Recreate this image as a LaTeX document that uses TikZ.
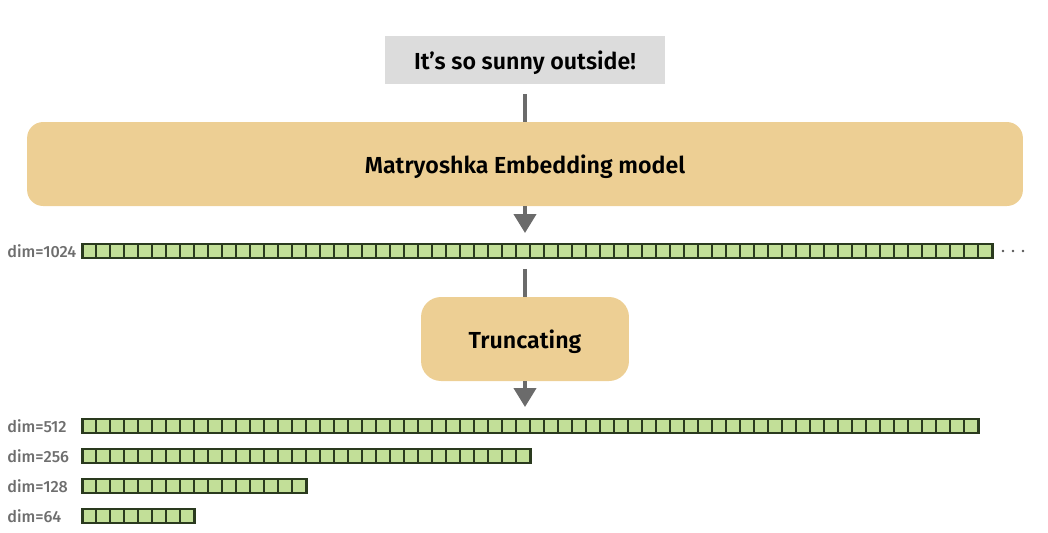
\documentclass[tikz,border=0pt]{standalone}
\usepackage{fontspec}
\setmainfont{Fira Sans}[BoldFont={Fira Sans SemiBold}]
\newfontfamily\medfont{Fira Sans Medium}
\usetikzlibrary{arrows.meta,positioning}
\definecolor{boxgray}{HTML}{DCDCDC}
\definecolor{sand}{HTML}{EDCF94}
\definecolor{arrowgray}{HTML}{6B6B6B}
\definecolor{cellfill}{HTML}{C2DF98}
\definecolor{celledge}{HTML}{2A3A1E}
\definecolor{labelgray}{HTML}{6E6E6E}
\tikzset{
  inputnode/.style={
    rectangle, fill=boxgray, minimum width=5.6cm, minimum height=0.96cm,
    text depth=0pt, font=\fontsize{13.2}{15}\selectfont\bfseries
  },
  modelnode/.style={
    rectangle, rounded corners=0.32cm, fill=sand, minimum height=1.68cm,
    text depth=0pt, font=\fontsize{13.2}{15}\selectfont\bfseries
  },
  flowline/.style={line width=2.3pt, color=arrowgray},
  flowarrow/.style={flowline, -{Triangle[width=0.44cm,length=0.38cm]}},
  vecrow/.style={
    rectangle, draw=celledge, fill=cellfill, line width=1.1pt,
    minimum height=0.28cm, inner sep=0pt, anchor=west
  },
  cellline/.style={draw=celledge, line width=1.1pt},
  dimlabel/.style={anchor=west, text=labelgray, inner sep=0pt,
    font=\medfont\fontsize{9.2}{11}\selectfont},
}

\begin{document}
\begin{tikzpicture}[x=0.02cm, y=-0.02cm]
  \useasboundingbox (0,0) rectangle (1048,532);

  \node[inputnode] (sunny) at (525,60) {It’s so sunny outside!};
  \node[modelnode, minimum width=19.92cm] (model) at (525,164) {Matryoshka Embedding model};
  \node[modelnode, rounded corners=0.4cm, minimum width=4.16cm] (trunc) at (525,339) {Truncating};

  % embedding rows, 14px cells
  \foreach \n/\cells/\y in {1024/65/251, 512/64/426, 256/32/456, 128/16/486, 64/8/516} {
    \node[dimlabel] (l\n) at (7,\y) {dim=\n};
    \node[vecrow, minimum width=\cells*0.28cm] (v\n) at (82,\y) {};
    \foreach \i in {1,...,\cells}
      \draw[cellline] ({82+14*(\i-1)},{\y-7}) rectangle ++(14,14);
  }
  \foreach \d in {1003,1013,1023}
    \fill[arrowgray!80!black] (\d,251) circle (1.4);

  \draw[flowline, shorten <=0.2cm] (sunny.south) -- (model.north);
  \draw[flowarrow, shorten >=0.2cm] (model.south) -- (model.south |- v1024.north);
  \draw[flowline, shorten <=0.2cm] (trunc.north |- v1024.south) -- (trunc.north);
  \draw[flowarrow, shorten >=0.22cm] (trunc.south) -- (trunc.south |- v512.north);
\end{tikzpicture}
\end{document}
